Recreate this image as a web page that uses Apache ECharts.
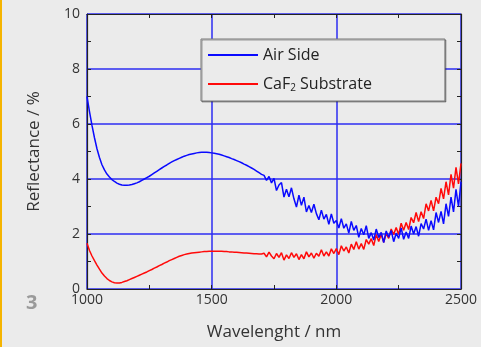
<!DOCTYPE html>
<html>
<head>
<meta charset="utf-8">
<script src="https://cdn.jsdelivr.net/npm/echarts@6/dist/echarts.min.js"></script>
<style>
  html, body { margin: 0; padding: 0; background: #ebebeb; }
  #chart { width: 481px; height: 347px; }
</style>
</head>
<body>
<div id="chart"></div>
<script>
// wavelength grid, 10 nm step
const startNm = 1000
const stepNm = 10

// reflectance, %
const airSide = [
  7.00, 6.45, 5.95, 5.50, 5.10, 4.78, 4.52, 4.33, 4.18, 4.07,
  3.98, 3.91, 3.85, 3.81, 3.78, 3.77, 3.77, 3.78, 3.80, 3.83,
  3.86, 3.90, 3.95, 4.00, 4.05, 4.10, 4.16, 4.22, 4.28, 4.34,
  4.40, 4.46, 4.51, 4.57, 4.62, 4.67, 4.71, 4.75, 4.79, 4.83,
  4.86, 4.89, 4.91, 4.93, 4.95, 4.96, 4.97, 4.97, 4.97, 4.96,
  4.95, 4.94, 4.92, 4.90, 4.87, 4.84, 4.81, 4.78, 4.74, 4.71,
  4.67, 4.63, 4.59, 4.54, 4.50, 4.45, 4.40, 4.35, 4.29, 4.23,
  4.17, 4.13, 3.95, 4.09, 3.86, 4.02, 3.58, 3.78, 3.87, 3.34,
  3.63, 3.35, 3.68, 3.28, 2.98, 3.41, 3.04, 3.34, 2.80, 3.04,
  2.78, 3.08, 2.74, 2.52, 2.87, 2.54, 2.71, 2.35, 2.73, 2.39,
  2.49, 2.22, 2.56, 2.21, 2.37, 2.03, 2.46, 2.13, 2.31, 1.88,
  2.20, 1.97, 2.30, 1.84, 2.05, 1.78, 2.18, 1.87, 2.06, 1.69,
  2.11, 1.88, 2.13, 1.72, 2.03, 1.84, 2.22, 1.81, 2.07, 1.84,
  2.29, 2.00, 2.27, 1.92, 2.38, 2.18, 2.54, 2.13, 2.48, 2.15,
  2.78, 2.42, 2.82, 2.37, 3.10, 2.64, 3.34, 2.80, 3.62, 3.00,
  3.90
]

const caf2Substrate = [
  1.66, 1.40, 1.20, 1.03, 0.87, 0.72, 0.58, 0.47, 0.38, 0.31,
  0.26, 0.23, 0.22, 0.22, 0.24, 0.27, 0.30, 0.34, 0.38, 0.42,
  0.46, 0.50, 0.54, 0.58, 0.62, 0.67, 0.71, 0.76, 0.80, 0.85,
  0.89, 0.94, 0.98, 1.03, 1.07, 1.11, 1.15, 1.19, 1.22, 1.25,
  1.27, 1.29, 1.31, 1.32, 1.33, 1.34, 1.35, 1.36, 1.36, 1.37,
  1.37, 1.37, 1.37, 1.37, 1.37, 1.36, 1.36, 1.35, 1.35, 1.34,
  1.34, 1.33, 1.32, 1.31, 1.31, 1.30, 1.29, 1.28, 1.28, 1.27,
  1.27, 1.30, 1.17, 1.34, 1.20, 1.10, 1.29, 1.15, 1.32, 1.05,
  1.24, 1.11, 1.32, 1.15, 1.28, 1.07, 1.25, 1.10, 1.35, 1.17,
  1.31, 1.12, 1.30, 1.19, 1.43, 1.20, 1.35, 1.20, 1.46, 1.29,
  1.47, 1.25, 1.57, 1.38, 1.53, 1.31, 1.63, 1.44, 1.72, 1.45,
  1.65, 1.44, 1.80, 1.63, 1.83, 1.58, 1.98, 1.73, 1.99, 1.70,
  2.02, 1.84, 2.18, 1.98, 2.24, 1.98, 2.39, 2.14, 2.42, 2.16,
  2.60, 2.41, 2.78, 2.45, 2.81, 2.56, 3.10, 2.84, 3.22, 2.84,
  3.34, 3.10, 3.66, 3.28, 3.90, 3.42, 4.17, 3.67, 4.42, 3.82,
  4.57
]

const xTicks = [1000, 1500, 2000, 2500]
const yTicks = [0, 2, 4, 6, 8, 10]

const toPairs = (vals) => vals.map((v, i) => [startNm + i * stepNm, v])

const font = '"Open Sans", "Noto Sans", sans-serif'
const frame = '#222'
const gridBlue = '#2c2cf2'

const axisBase = {
  axisLine: { show: true, onZero: false, lineStyle: { color: frame, width: 1.2 } },
  axisTick: { show: true, inside: true, length: 4, lineStyle: { color: frame } },
  minorTick: { show: true, splitNumber: 2, length: 4, lineStyle: { color: frame } },
}

const chart = echarts.init(document.getElementById('chart'))
chart.setOption({
  backgroundColor: '#ebebeb',
  animation: false,
  textStyle: { fontFamily: font },
  grid: { left: 87, right: 20, top: 14, bottom: 58 },
  xAxis: [{
    ...axisBase,
    type: 'value',
    min: xTicks[0], max: xTicks[xTicks.length - 1], interval: 500,
    name: 'Wavelenght / nm',
    nameLocation: 'middle',
    nameGap: 35,
    nameTextStyle: { fontSize: 17, color: '#333', fontFamily: font },
    axisLabel: { fontSize: 14, color: '#333', margin: 4, fontFamily: font, formatter: (v) => String(v) },
    splitLine: { show: true, lineStyle: { color: gridBlue, width: 1.5 } },
  }, {
    ...axisBase,
    type: 'value', position: 'top',
    min: xTicks[0], max: xTicks[xTicks.length - 1], interval: 500,
    axisLabel: { show: false },
    splitLine: { show: false },
  }],
  yAxis: [{
    ...axisBase,
    type: 'value',
    min: yTicks[0], max: yTicks[yTicks.length - 1], interval: 2,
    name: 'Reflectance / %',
    nameLocation: 'middle',
    nameGap: 44,
    nameTextStyle: { fontSize: 17, color: '#333', fontFamily: font },
    axisLabel: { fontSize: 14, color: '#333', margin: 7, fontFamily: font },
    splitLine: { show: true, lineStyle: { color: gridBlue, width: 1.5 } },
  }, {
    ...axisBase,
    type: 'value', position: 'right',
    min: yTicks[0], max: yTicks[yTicks.length - 1], interval: 2,
    axisLabel: { show: false },
    splitLine: { show: false },
  }],
  legend: {
    data: ['Air Side', 'CaF2 Substrate'],
    orient: 'vertical',
    left: 201, top: 39,
    padding: [8, 73, 8, 7],
    itemGap: 13,
    itemWidth: 50, itemHeight: 2,
    icon: 'rect',
    backgroundColor: '#ebebeb',
    borderColor: '#777', borderWidth: 1,
    shadowColor: 'rgba(0,0,0,0.35)', shadowOffsetX: 1, shadowOffsetY: 1,
    formatter: (n) => n === 'CaF2 Substrate' ? 'CaF{sub|2} Substrate' : n,
    textStyle: {
      fontSize: 16, color: '#222', fontFamily: font,
      rich: { sub: { fontSize: 10, verticalAlign: 'bottom', padding: [8, 0, 0, 0], color: '#222' } }
    },
  },
  graphic: [
    { type: 'rect', left: 0, top: 0, shape: { width: 2, height: 347 }, style: { fill: '#f5b400' } },
    { type: 'text', left: 26, top: 293, style: { text: '3', fontSize: 20, fontWeight: 'bold', fill: '#9a9a9a', fontFamily: font } },
  ],
  series: [{
    name: 'CaF2 Substrate',
    type: 'line',
    data: toPairs(caf2Substrate),
    showSymbol: false,
    color: '#ff0a0a',
    lineStyle: { width: 1.5 },
  }, {
    name: 'Air Side',
    type: 'line',
    data: toPairs(airSide),
    showSymbol: false,
    color: '#0a0aff',
    lineStyle: { width: 1.5 },
  }],
})
</script>
</body>
</html>
